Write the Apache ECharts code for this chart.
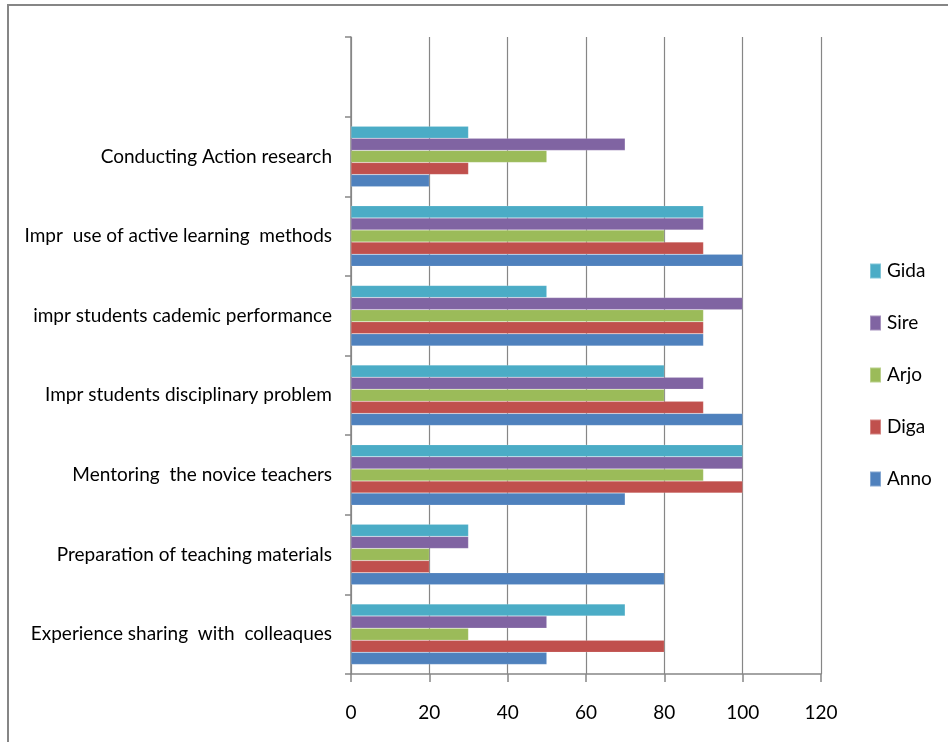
<!DOCTYPE html>
<html>
<head>
<meta charset="utf-8">
<script src="https://cdn.jsdelivr.net/npm/echarts@6/dist/echarts.min.js"></script>
<style>
  html, body { margin: 0; padding: 0; background: #fff; }
  #frame { position: absolute; left: 7px; top: 4px; width: 941px; height: 738px;
           border-left: 2px solid #868686; border-top: 2px solid #868686; }
  #chart { position: absolute; left: 0; top: 0; width: 948px; height: 742px; }
</style>
</head>
<body>
<div id="frame"></div>
<div id="chart"></div>
<script>
const categories = [
  'Experience sharing  with  colleaques',
  'Preparation of teaching materials',
  'Mentoring  the novice teachers',
  'Impr students disciplinary problem',
  'impr students cademic performance',
  'Impr  use of active learning  methods',
  'Conducting Action research',
  ''
];
const anno = [50, 80, 70, 100, 90, 100, 20, null];
const diga = [80, 20, 100, 90, 90, 90, 30, null];
const arjo = [30, 20, 90, 80, 90, 80, 50, null];
const sire = [50, 30, 100, 90, 100, 90, 70, null];
const gida = [70, 30, 100, 80, 50, 90, 30, null];
const xTicks = { min: 0, max: 120, interval: 20 };
const legendOrder = ['Gida', 'Sire', 'Arjo', 'Diga', 'Anno'];

const FONT = "Lato, 'Liberation Sans', sans-serif";
const FS = 19;
const AX = '#868686';
const TXT = '#000';

const chart = echarts.init(document.getElementById('chart'), null, { renderer: 'canvas' });
function bar(name, data, color) {
  return {
    name, type: 'bar', data,
    barGap: '0%', barCategoryGap: '24%',
    itemStyle: { color, borderColor: 'rgba(255,255,255,0.3)', borderWidth: 0.5 },
    emphasis: { disabled: true },
    animation: false
  };
}
chart.setOption({
  animation: false,
  backgroundColor: 'transparent',
  textStyle: { fontFamily: FONT },
  grid: { left: 351, right: 127, top: 37, bottom: 68, containLabel: false, outerBoundsMode: 'none' },
  legend: {
    data: legendOrder,
    orient: 'vertical',
    left: 869, top: 260, padding: 0,
    itemWidth: 11, itemHeight: 15, itemGap: 30,
    icon: 'rect',
    selectedMode: false,
    textStyle: { fontFamily: FONT, fontSize: FS, lineHeight: 22, color: TXT, padding: [0, 0, 0, 1] }
  },
  xAxis: {
    type: 'value', min: xTicks.min, max: xTicks.max, interval: xTicks.interval,
    axisLine: { show: true, lineStyle: { color: AX, width: 1.5 } },
    axisTick: { show: true, length: 8, lineStyle: { color: AX, width: 1.5 } },
    splitLine: { show: true, lineStyle: { color: AX, width: 1.2 } },
    axisLabel: { fontFamily: FONT, fontSize: FS, color: TXT, margin: 29 }
  },
  yAxis: {
    type: 'category', data: categories,
    axisLine: { show: true, lineStyle: { color: AX, width: 1.5 } },
    axisTick: { show: true, length: 6, lineStyle: { color: AX, width: 1.5 } },
    axisLabel: { fontFamily: FONT, fontSize: FS, color: TXT, margin: 19 }
  },
  series: [
    bar('Gida', gida, '#4BACC6'),
    bar('Sire', sire, '#8064A2'),
    bar('Arjo', arjo, '#9BBB59'),
    bar('Diga', diga, '#C0504D'),
    bar('Anno', anno, '#4F81BD')
  ]
});
</script>
</body>
</html>
